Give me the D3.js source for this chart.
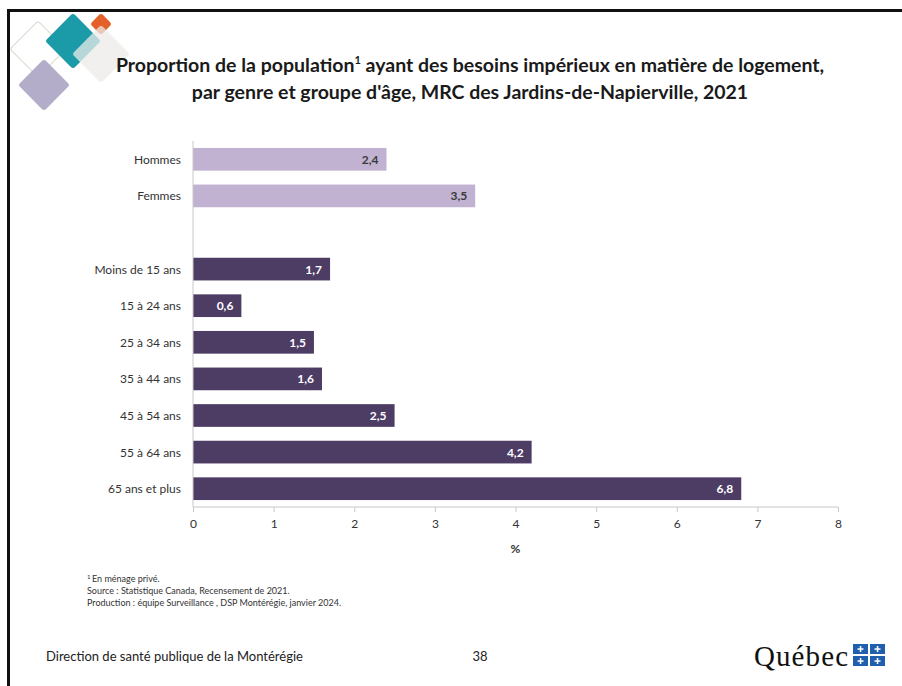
<!DOCTYPE html>
<html>
<head>
<meta charset="utf-8">
<script src="https://cdn.jsdelivr.net/npm/d3@7/dist/d3.min.js"></script>
<style>
  body { margin: 0; background: #fff; }
  svg { display: block; font-family: Lato, "Open Sans", sans-serif; }
</style>
</head>
<body>
<script>
// chart data
var categories = ["Hommes", "Femmes", "", "Moins de 15 ans", "15 à 24 ans", "25 à 34 ans",
                  "35 à 44 ans", "45 à 54 ans", "55 à 64 ans", "65 ans et plus"]
var values = [2.4, 3.5, null, 1.7, 0.6, 1.5, 1.6, 2.5, 4.2, 6.8]
var groups = ["genre", "genre", null, "age", "age", "age", "age", "age", "age", "age"]
var xTicks = [0, 1, 2, 3, 4, 5, 6, 7, 8]
var notes = ["En ménage privé.",
             "Source : Statistique Canada, Recensement de 2021.",
             "Production : équipe Surveillance , DSP Montérégie, janvier 2024."]

var W = 902, H = 686
var svg = d3.select("body").append("svg").attr("width", W).attr("height", H)

// slide frame (top + left edge)
svg.append("rect").attr("x", 7).attr("y", 9).attr("width", W).attr("height", 3).attr("fill", "#111")
svg.append("rect").attr("x", 7).attr("y", 9).attr("width", 3).attr("height", H).attr("fill", "#111")

// decorative diamonds, top left
function diamond(cx, cy, r, fill, stroke, op) {
  svg.append("rect")
      .attr("x", -r / Math.SQRT2).attr("y", -r / Math.SQRT2)
      .attr("width", r * Math.SQRT2).attr("height", r * Math.SQRT2)
      .attr("rx", 3)
      .attr("transform", "translate(" + cx + "," + cy + ") rotate(45)")
      .attr("fill", fill).attr("stroke", stroke || "none").attr("stroke-width", 1.2)
      .attr("opacity", op || 1)
}
diamond(38, 49, 28, "none", "#d9ddd2")
diamond(44, 85, 26, "#b4adc9")
diamond(73, 41, 28, "#1b9aa7")
diamond(101, 24, 11, "#e4622a")
diamond(101, 54, 29, "#ecebea", null, 0.75)

// title
var title = svg.append("text").attr("text-anchor", "middle").attr("font-weight", "bold")
    .attr("font-size", 19.5).attr("fill", "#1a1a1a")
title.append("tspan").attr("x", 470).attr("y", 72).text("Proportion de la population")
title.append("tspan").attr("font-size", 11).attr("dy", -8).text("1")
title.append("tspan").attr("dy", 8).text(" ayant des besoins impérieux en matière de logement,")
svg.append("text").attr("x", 470).attr("y", 99).attr("text-anchor", "middle")
    .attr("font-weight", "bold").attr("font-size", 19.5).attr("fill", "#1a1a1a")
    .text("par genre et groupe d'âge, MRC des Jardins-de-Napierville, 2021")

// chart area
var x = d3.scaleLinear().domain([0, 8]).range([193, 838])
var y = d3.scaleBand().domain(categories.map(function(d, i) { return i })).range([141, 507]).paddingInner(0.38).paddingOuter(0.19)

var colors = { genre: "#c1b2d2", age: "#4d3c64" }
var data = categories.map(function(c, i) { return { cat: c, v: values[i], g: groups[i], i: i } })
    .filter(function(d) { return d.v != null })

svg.selectAll("rect.bar").data(data).enter().append("rect")
    .attr("class", "bar")
    .attr("x", x(0)).attr("y", function(d) { return y(d.i) })
    .attr("width", function(d) { return x(d.v) - x(0) })
    .attr("height", y.bandwidth())
    .attr("fill", function(d) { return colors[d.g] })

svg.selectAll("text.val").data(data).enter().append("text")
    .attr("x", function(d) { return x(d.v) - 8 })
    .attr("y", function(d) { return y(d.i) + y.bandwidth() / 2 + 4.5 })
    .attr("text-anchor", "end").attr("font-weight", "bold").attr("font-size", 12)
    .attr("fill", function(d) { return d.g == "age" ? "#fff" : "#3a3a3a" })
    .text(function(d) { return d3.format(".1f")(d.v).replace(".", ",") })

svg.selectAll("text.cat").data(data).enter().append("text")
    .attr("x", 181)
    .attr("y", function(d) { return y(d.i) + y.bandwidth() / 2 + 4.5 })
    .attr("text-anchor", "end").attr("font-size", 12).attr("fill", "#333")
    .text(function(d) { return d.cat })

// axes
svg.append("line").attr("x1", x(0)).attr("x2", x(0)).attr("y1", 141).attr("y2", 507)
    .attr("stroke", "#c8c8c8")
var xAxis = svg.append("g").attr("transform", "translate(0,507)")
    .call(d3.axisBottom(x).tickValues(xTicks).tickSize(5).tickPadding(7).tickFormat(d3.format("d")))
xAxis.select(".domain").attr("stroke", "#c8c8c8").attr("d", "M" + x(0) + ",0H" + x(8))
xAxis.selectAll(".tick line").attr("stroke", "#c8c8c8")
xAxis.selectAll(".tick text").attr("font-size", 12).attr("fill", "#333").attr("font-family", "Lato, sans-serif")
svg.append("text").attr("x", x(4)).attr("y", 553).attr("text-anchor", "middle")
    .attr("font-weight", "bold").attr("font-size", 12).attr("fill", "#333").text("%")

// footnotes
var nt = svg.append("g").attr("font-size", 9).attr("fill", "#333")
nt.append("text").attr("x", 87).attr("y", 582).attr("font-size", 6).attr("dy", -3).text("1")
nt.append("text").attr("x", 92).attr("y", 582).text(notes[0])
nt.append("text").attr("x", 87).attr("y", 594).text(notes[1])
nt.append("text").attr("x", 87).attr("y", 606).text(notes[2])

// footer
svg.append("text").attr("x", 46).attr("y", 661).attr("font-size", 13).attr("fill", "#222")
    .text("Direction de santé publique de la Montérégie")
svg.append("text").attr("x", 480).attr("y", 661).attr("text-anchor", "middle").attr("font-size", 13)
    .attr("fill", "#222").text("38")
svg.append("text").attr("x", 754).attr("y", 666).attr("font-size", 29).attr("fill", "#111")
    .attr("font-family", "'Liberation Serif', serif").attr("textLength", 94).text("Québec")
var flag = svg.append("g")
;[[853, 644], [870, 644], [853, 656], [870, 656]].forEach(function(p) {
  flag.append("rect").attr("x", p[0]).attr("y", p[1]).attr("width", 15).attr("height", 10).attr("fill", "#1f5fae")
  flag.append("rect").attr("x", p[0] + 6.8).attr("y", p[1] + 2).attr("width", 1.5).attr("height", 6).attr("fill", "#fff")
  flag.append("rect").attr("x", p[0] + 4.5).attr("y", p[1] + 4.3).attr("width", 6).attr("height", 1.5).attr("fill", "#fff")
})
</script>
</body>
</html>
